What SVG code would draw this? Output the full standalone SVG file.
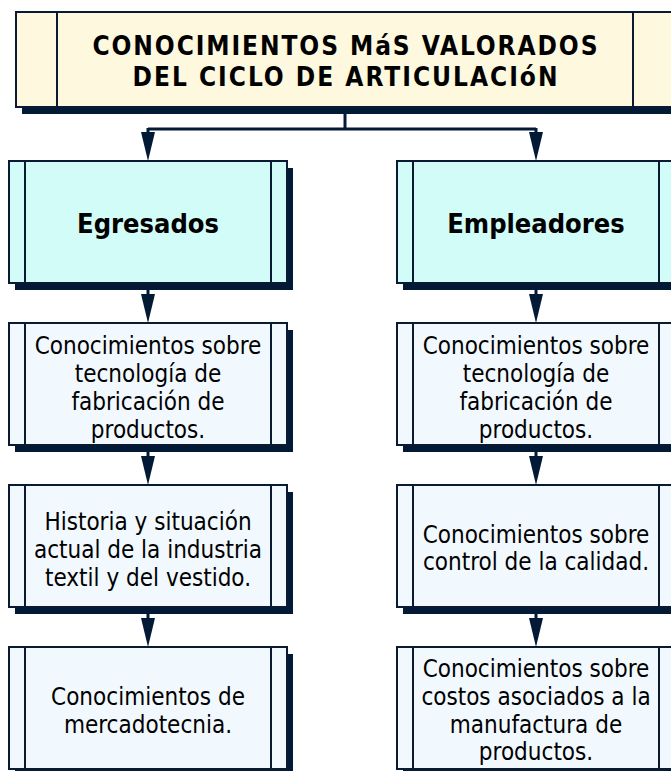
<svg xmlns="http://www.w3.org/2000/svg" width="671" height="771" viewBox="0 0 671 771">
<defs>
<style>
.sh{fill:#021a35}
.bd{stroke:#0b1a33;stroke-width:2}
.ttl{fill:#fdf8de}
.hd{fill:#d2fcf8}
.ct{fill:#f2f9fe}
.ln{stroke:#0b1a33;stroke-width:2}
.t{font-family:"DejaVu Sans Condensed","Liberation Sans",sans-serif;font-size:24px;fill:#000;text-anchor:middle}
.h{font-family:"DejaVu Sans Condensed","Liberation Sans",sans-serif;font-size:27px;font-weight:bold;fill:#000;text-anchor:middle}
.tt{font-family:"DejaVu Sans Condensed","Liberation Sans",sans-serif;font-size:26px;font-weight:bold;fill:#000;text-anchor:middle}
.c{stroke:#021a35;stroke-width:3;fill:none}
</style>
<marker id="ah" viewBox="0 0 29 14" refX="0" refY="7" markerUnits="userSpaceOnUse" markerWidth="29" markerHeight="14" orient="auto">
<path d="M0,0 L29,7 L0,14 z" fill="#021a35"/>
</marker>
</defs>

<g id="connectors">
<path class="c" d="M345,114 V129"/>
<path class="c" d="M148,129 H536"/>
<path class="c" d="M148,128 V132" marker-end="url(#ah)"/>
<path class="c" d="M536,128 V132" marker-end="url(#ah)"/>
<path class="c" d="M148,290 V294" marker-end="url(#ah)"/>
<path class="c" d="M148,452 V456" marker-end="url(#ah)"/>
<path class="c" d="M148,614 V618" marker-end="url(#ah)"/>
<path class="c" d="M536,290 V294" marker-end="url(#ah)"/>
<path class="c" d="M536,452 V456" marker-end="url(#ah)"/>
<path class="c" d="M536,614 V618" marker-end="url(#ah)"/>
</g>

<g id="title">
<rect class="sh" x="22" y="19" width="658" height="95"/>
<rect class="ttl bd" x="16" y="12" width="658" height="95"/>
<line class="ln" x1="57" y1="12" x2="57" y2="107"/>
<line class="ln" x1="633" y1="12" x2="633" y2="107"/>
<text class="tt" x="345" y="55" textLength="505" lengthAdjust="spacing">CONOCIMIENTOS MáS VALORADOS</text>
<text class="tt" x="345" y="86" textLength="425" lengthAdjust="spacing">DEL CICLO DE ARTICULACIóN</text>
</g>

<g id="egresados">
<rect class="sh" x="15" y="168" width="278" height="122"/>
<rect class="hd bd" x="9" y="161" width="278" height="122"/>
<line class="ln" x1="25" y1="161" x2="25" y2="283"/>
<line class="ln" x1="271" y1="161" x2="271" y2="283"/>
<text class="h" x="148" y="233">Egresados</text>
</g>

<g id="empleadores">
<rect class="sh" x="403" y="168" width="278" height="122"/>
<rect class="hd bd" x="397" y="161" width="278" height="122"/>
<line class="ln" x1="413" y1="161" x2="413" y2="283"/>
<line class="ln" x1="659" y1="161" x2="659" y2="283"/>
<text class="h" x="536" y="233">Empleadores</text>
</g>

<g id="egr1">
<rect class="sh" x="15" y="330" width="278" height="122"/>
<rect class="ct bd" x="9" y="323" width="278" height="122"/>
<line class="ln" x1="25" y1="323" x2="25" y2="445"/>
<line class="ln" x1="271" y1="323" x2="271" y2="445"/>
<text class="t" x="148" y="354">Conocimientos sobre</text>
<text class="t" x="148" y="382">tecnología de</text>
<text class="t" x="148" y="410">fabricación de</text>
<text class="t" x="148" y="438">productos.</text>
</g>

<g id="egr2">
<rect class="sh" x="15" y="492" width="278" height="122"/>
<rect class="ct bd" x="9" y="485" width="278" height="122"/>
<line class="ln" x1="25" y1="485" x2="25" y2="607"/>
<line class="ln" x1="271" y1="485" x2="271" y2="607"/>
<text class="t" x="148" y="530">Historia y situación</text>
<text class="t" x="148" y="558">actual de la industria</text>
<text class="t" x="148" y="586">textil y del vestido.</text>
</g>

<g id="egr3">
<rect class="sh" x="15" y="654" width="278" height="122"/>
<rect class="ct bd" x="9" y="647" width="278" height="122"/>
<line class="ln" x1="25" y1="647" x2="25" y2="769"/>
<line class="ln" x1="271" y1="647" x2="271" y2="769"/>
<text class="t" x="148" y="705">Conocimientos de</text>
<text class="t" x="148" y="733">mercadotecnia.</text>
</g>

<g id="emp1">
<rect class="sh" x="403" y="330" width="278" height="122"/>
<rect class="ct bd" x="397" y="323" width="278" height="122"/>
<line class="ln" x1="413" y1="323" x2="413" y2="445"/>
<line class="ln" x1="659" y1="323" x2="659" y2="445"/>
<text class="t" x="536" y="354">Conocimientos sobre</text>
<text class="t" x="536" y="382">tecnología de</text>
<text class="t" x="536" y="410">fabricación de</text>
<text class="t" x="536" y="438">productos.</text>
</g>

<g id="emp2">
<rect class="sh" x="403" y="492" width="278" height="122"/>
<rect class="ct bd" x="397" y="485" width="278" height="122"/>
<line class="ln" x1="413" y1="485" x2="413" y2="607"/>
<line class="ln" x1="659" y1="485" x2="659" y2="607"/>
<text class="t" x="536" y="543">Conocimientos sobre</text>
<text class="t" x="536" y="570">control de la calidad.</text>
</g>

<g id="emp3">
<rect class="sh" x="403" y="654" width="278" height="122"/>
<rect class="ct bd" x="397" y="647" width="278" height="122"/>
<line class="ln" x1="413" y1="647" x2="413" y2="769"/>
<line class="ln" x1="659" y1="647" x2="659" y2="769"/>
<text class="t" x="536" y="677">Conocimientos sobre</text>
<text class="t" x="536" y="705">costos asociados a la</text>
<text class="t" x="536" y="733">manufactura de</text>
<text class="t" x="536" y="760">productos.</text>
</g>
</svg>
